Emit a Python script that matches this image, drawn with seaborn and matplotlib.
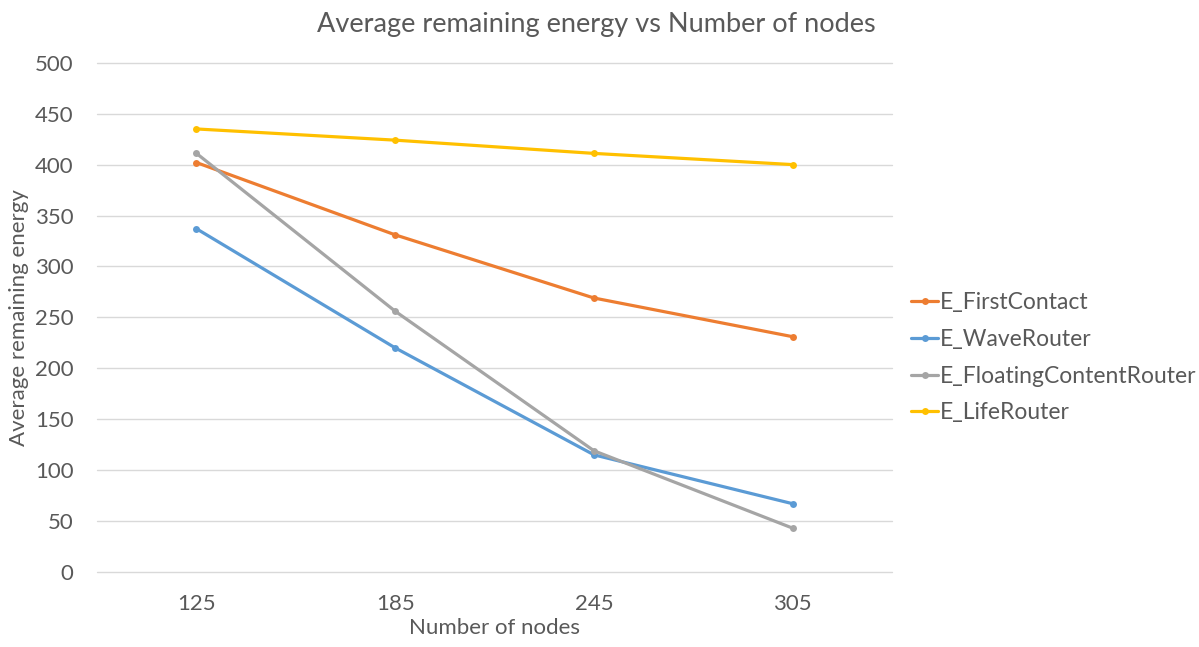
import matplotlib
matplotlib.use("Agg")
import matplotlib.pyplot as plt
import seaborn as sns
import pandas as pd

nodes = ["125", "185", "245", "305"]
first_contact = [402, 331, 269, 231]
wave_router = [337, 220, 115, 67]
floating_content = [411, 256, 119, 43]
life_router = [435, 424, 411, 400]

series_names = ["E_FirstContact", "E_WaveRouter", "E_FloatingContentRouter", "E_LifeRouter"]
series_values = [first_contact, wave_router, floating_content, life_router]
colors = ["#ED7D31", "#5B9BD5", "#A5A5A5", "#FFC000"]

rows = []
for name, vals in zip(series_names, series_values):
    for n, v in zip(nodes, vals):
        rows.append({"nodes": n, "energy": v, "series": name})
df = pd.DataFrame(rows)

sns.set_style("white")
plt.rcParams["font.family"] = ["Lato", "DejaVu Sans"]
text_color = "#595959"

fig = plt.figure(figsize=(11.99, 6.47), dpi=100)
ax = fig.add_axes([0.081, 0.116, 0.663, 0.787])

sns.lineplot(data=df, x="nodes", y="energy", hue="series", hue_order=series_names,
             palette=colors, marker="o", markersize=5, markeredgewidth=0,
             linewidth=2.3, ax=ax, sort=False)

ax.set_xlim(-0.5, 3.5)
ax.set_ylim(0, 500)
ax.set_yticks(range(0, 501, 50))
ax.yaxis.grid(True, color="#D9D9D9", linewidth=1)
for gl in ax.get_ygridlines():
    gl.set_clip_on(False)
ax.set_axisbelow(True)
for s in ax.spines.values():
    s.set_visible(False)
ax.tick_params(axis="both", length=0, labelsize=16, colors=text_color)
ax.tick_params(axis="y", pad=17)
ax.tick_params(axis="x", pad=16)

ax.set_xlabel("Number of nodes", fontsize=16, color=text_color, labelpad=3)
ax.set_ylabel("Average remaining energy", fontsize=16, color=text_color, labelpad=4)

fig.suptitle("Average remaining energy vs Number of nodes", x=0.497, y=0.981,
             fontsize=19.5, color=text_color)

handles, labels = ax.get_legend_handles_labels()
ax.legend_.remove()
fig.legend(handles, labels, loc="center left", bbox_to_anchor=(0.743, 0.447),
           frameon=False, fontsize=16.5, labelcolor=text_color,
           handlelength=1.15, handletextpad=0.1, labelspacing=0.68)

fig.savefig("out.png", dpi=100)
